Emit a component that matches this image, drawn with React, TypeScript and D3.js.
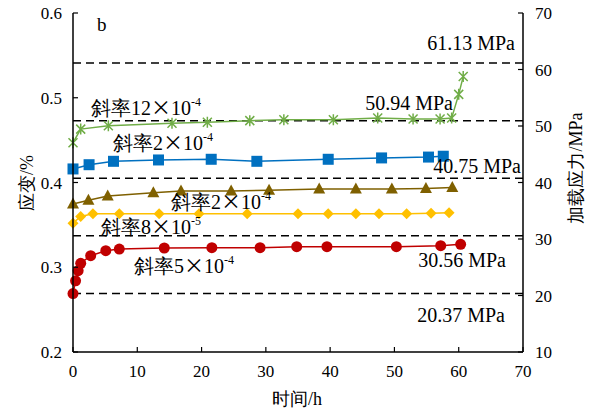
import React from "react";
import * as d3 from "d3";

const greenT = [0, 1.2, 5.5, 15.4, 20.9, 27.5, 32.8, 40.5, 47.4, 52.9, 57.1, 58.9, 60.0, 60.7];
const greenV = [0.447, 0.463, 0.467, 0.470, 0.471, 0.473, 0.474, 0.474, 0.476, 0.475, 0.475, 0.476, 0.504, 0.525];
const blueT = [0, 2.5, 6.3, 13.3, 21.5, 28.6, 39.7, 48.0, 55.3, 57.6];
const blueV = [0.416, 0.421, 0.425, 0.4266, 0.4274, 0.425, 0.4274, 0.429, 0.430, 0.431];
const brownT = [0, 2.4, 5.4, 12.5, 16.8, 24.6, 30.5, 38.3, 44.0, 49.6, 54.9, 59.0];
const brownV = [0.3746, 0.379, 0.384, 0.388, 0.390, 0.390, 0.391, 0.3923, 0.3923, 0.3923, 0.393, 0.394];
const yellowT = [0, 1.2, 3.1, 7.2, 13.4, 19.6, 27.1, 35.0, 39.7, 44.0, 47.6, 51.9, 55.7, 58.5];
const yellowV = [0.352, 0.360, 0.363, 0.363, 0.363, 0.363, 0.363, 0.363, 0.363, 0.363, 0.363, 0.363, 0.3637, 0.3644];
const redT = [0, 0.4, 0.8, 1.2, 2.75, 5.1, 7.2, 14.2, 21.6, 29.1, 34.8, 39.5, 50.3, 57.2, 60.3];
const redV = [0.269, 0.284, 0.296, 0.3047, 0.3136, 0.3195, 0.3215, 0.3227, 0.3231, 0.3231, 0.3243, 0.3243, 0.3243, 0.3254, 0.327];

const xTicks = [0, 10, 20, 30, 40, 50, 60, 70];
const yLeftTicks = [0.2, 0.3, 0.4, 0.5, 0.6];
const yRightTicks = [10, 20, 30, 40, 50, 60, 70];
const stressLevels = [61.13, 50.94, 40.75, 30.56, 20.37];
const stressLabels = ["61.13 MPa", "50.94 MPa", "40.75 MPa", "30.56 MPa", "20.37 MPa"];

const seriesLabels = [
  { base: "12", exp: "-4" },
  { base: "2", exp: "-4" },
  { base: "2", exp: "-4" },
  { base: "8", exp: "-5" },
  { base: "5", exp: "-4" },
];

const W = 595, H = 412;
const L = 73, R = 523, T = 13, B = 352;

const SERIF = "Liberation Serif";
const CJK = "Noto Sans CJK SC";

export default function App() {
  const x = d3.scaleLinear().domain([0, 70]).range([L, R]);
  const yL = d3.scaleLinear().domain([0.2, 0.6]).range([B, T]);
  const yR = d3.scaleLinear().domain([10, 70]).range([B, T]);

  const line = d3.line<[number, number]>().x((d) => x(d[0])).y((d) => yL(d[1]));
  const zip = (t: number[], v: number[]) => t.map((tt, i) => [tt, v[i]] as [number, number]);

  const series = [
    { t: greenT, v: greenV, color: "#70AD47", marker: "star" },
    { t: blueT, v: blueV, color: "#0070C0", marker: "square" },
    { t: brownT, v: brownV, color: "#7F6000", marker: "triangle" },
    { t: yellowT, v: yellowV, color: "#FFC000", marker: "diamond" },
    { t: redT, v: redV, color: "#C00000", marker: "circle" },
  ];

  const marker = (kind: string, cx: number, cy: number, color: string, key: number) => {
    if (kind === "circle") return <circle key={key} cx={cx} cy={cy} r={5.5} fill={color} />;
    if (kind === "square") return <rect key={key} x={cx - 5.5} y={cy - 5.5} width={11} height={11} fill={color} />;
    if (kind === "triangle")
      return <path key={key} d={`M${cx},${cy - 6.5}L${cx + 6},${cy + 4.5}L${cx - 6},${cy + 4.5}Z`} fill={color} />;
    if (kind === "diamond")
      return <path key={key} d={`M${cx},${cy - 5.5}L${cx + 5.5},${cy}L${cx},${cy + 5.5}L${cx - 5.5},${cy}Z`} fill={color} />;
    const s = 4.5;
    return (
      <path
        key={key}
        d={`M${cx - s},${cy - s}L${cx + s},${cy + s}M${cx - s},${cy + s}L${cx + s},${cy - s}M${cx},${cy - s - 1}L${cx},${cy + s + 1}`}
        stroke={color}
        strokeWidth={1.5}
        fill="none"
      />
    );
  };

  const labelPos = [
    { x: 91, y: 115 },
    { x: 113, y: 150 },
    { x: 171, y: 209 },
    { x: 101, y: 234 },
    { x: 134, y: 273 },
  ];
  const stressPos = [
    { x: 515, y: 50 },
    { x: 453, y: 110 },
    { x: 521, y: 173 },
    { x: 506, y: 267 },
    { x: 505, y: 322 },
  ];

  return (
    <div style={{ position: "absolute", left: 0, top: 0, width: W, height: H, background: "#fff" }}>
      <svg width={W} height={H}>
        <style>{`text { font-family: "Liberation Serif"; } .cjkx { font-family: "Noto Sans CJK SC"; }`}</style>
        <rect width={W} height={H} fill="#fff" />
        {stressLevels.map((s, i) => (
          <line key={i} x1={L} x2={R} y1={yR(s)} y2={yR(s)} stroke="#000" strokeWidth={1.5} strokeDasharray="8,5" />
        ))}
        {series.map((s, si) => (
          <g key={si}>
            <path d={line(zip(s.t, s.v)) || ""} fill="none" stroke={s.color} strokeWidth={1.5} />
            {zip(s.t, s.v).map((d, i) => marker(s.marker, x(d[0]), yL(d[1]), s.color, i))}
          </g>
        ))}
        <line x1={L} x2={L} y1={T} y2={B} stroke="#000" strokeWidth={1.5} />
        <line x1={R} x2={R} y1={T} y2={B} stroke="#000" strokeWidth={1.5} />
        <line x1={L} x2={R} y1={B} y2={B} stroke="#000" strokeWidth={1.5} />
        <g fontFamily={SERIF}>
          {xTicks.map((t) => (
            <g key={t}>
              <line x1={x(t)} x2={x(t)} y1={B} y2={B - 5} stroke="#000" strokeWidth={1.2} />
              <text x={x(t)} y={377} textAnchor="middle" fontFamily={SERIF} fontSize={17}>{t}</text>
            </g>
          ))}
          {yLeftTicks.map((t) => (
            <g key={t}>
              <line x1={L} x2={L + 5} y1={yL(t)} y2={yL(t)} stroke="#000" strokeWidth={1.2} />
              <text x={62} y={yL(t) + 6} textAnchor="end" fontFamily={SERIF} fontSize={17}>{t.toFixed(1)}</text>
            </g>
          ))}
          {yRightTicks.map((t) => (
            <g key={t}>
              <line x1={R - 5} x2={R} y1={yR(t)} y2={yR(t)} stroke="#000" strokeWidth={1.2} />
              <text x={535} y={yR(t) + 6} textAnchor="start" fontFamily={SERIF} fontSize={17}>{t}</text>
            </g>
          ))}
          <text x={297} y={405} textAnchor="middle" fontFamily={SERIF} fontSize={18}>时间/h</text>
          <text transform="translate(33,183) rotate(-90)" textAnchor="middle" fontFamily={SERIF} fontSize={18}>应变/%</text>
          <text transform="translate(582,168) rotate(-90)" textAnchor="middle" fontFamily={SERIF} fontSize={18}>加载应力/MPa</text>
          <text x={97} y={31} fontFamily={SERIF} fontSize={19}>b</text>
          {seriesLabels.map((s, i) => (
            <text key={i} x={labelPos[i].x} y={labelPos[i].y} fontFamily={SERIF} fontSize={20}>
              <tspan>斜率</tspan>
              <tspan>{s.base}</tspan>
              <tspan className="cjkx" fontFamily={CJK}>×</tspan>
              <tspan>10</tspan>
              <tspan dy={-9} fontSize={12}>{s.exp}</tspan>
            </text>
          ))}
          {stressLabels.map((s, i) => (
            <text key={i} x={stressPos[i].x} y={stressPos[i].y} textAnchor="end" fontFamily={SERIF} fontSize={20}>{s}</text>
          ))}
        </g>
      </svg>
    </div>
  );
}
